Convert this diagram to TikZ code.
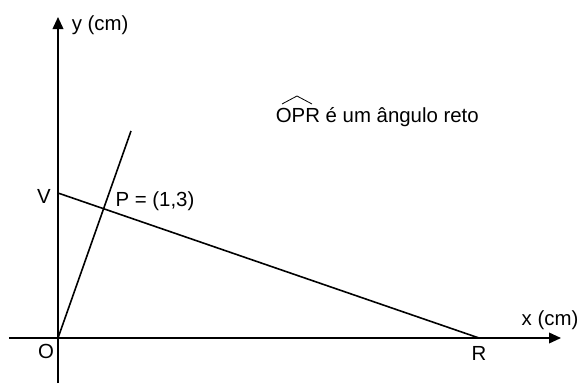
\documentclass[tikz,border=0pt]{standalone}
\usepackage{fontspec}
\setmainfont{Liberation Sans}
\usetikzlibrary{arrows.meta}
\begin{document}
\begin{tikzpicture}[x=0.75pt,y=0.75pt,line width=1.2pt,
    font=\fontsize{15.3}{18}\selectfont,
    every node/.style={inner sep=0pt},
    axis/.style={-{Triangle[length=9pt,width=8pt]}}]
  \useasboundingbox (-58,-45) rectangle (520,338);
  % points
  \coordinate (O) at (0,0);
  \coordinate (V) at (0,145);
  \coordinate (P) at (45,129);
  \coordinate (R) at (421,0);
  \coordinate (T) at (73,207);
  \coordinate (xmin) at (-49,0);
  \coordinate (xmax) at (503,0);
  \coordinate (ymin) at (0,-45);
  \coordinate (ymax) at (0,321);
  % labels
  \node at (-12,-13) (Olab) {O};
  \node at (421,-15) (Rlab) {R};
  \node at (-14,142) (Vlab) {V};
  \node at (97,137)  (Plab) {P = (1,3)};
  \node[anchor=west] at (13,313) (ylab) {y (cm)};
  \node at (492,18)  (xlab) {x (cm)};
  \node[anchor=base west] at (217,216) (angle) {OPR é um ângulo reto};
  % hat over OPR
  \draw[line width=0.6pt] (224,234) -- (239,242) -- (254,234);
  % axes
  \draw[axis] (xmin) -- (xmax);
  \draw[axis] (ymin) -- (ymax);
  % lines
  \draw (O) -- (T);
  \draw (V) -- (R);
\end{tikzpicture}
\end{document}
